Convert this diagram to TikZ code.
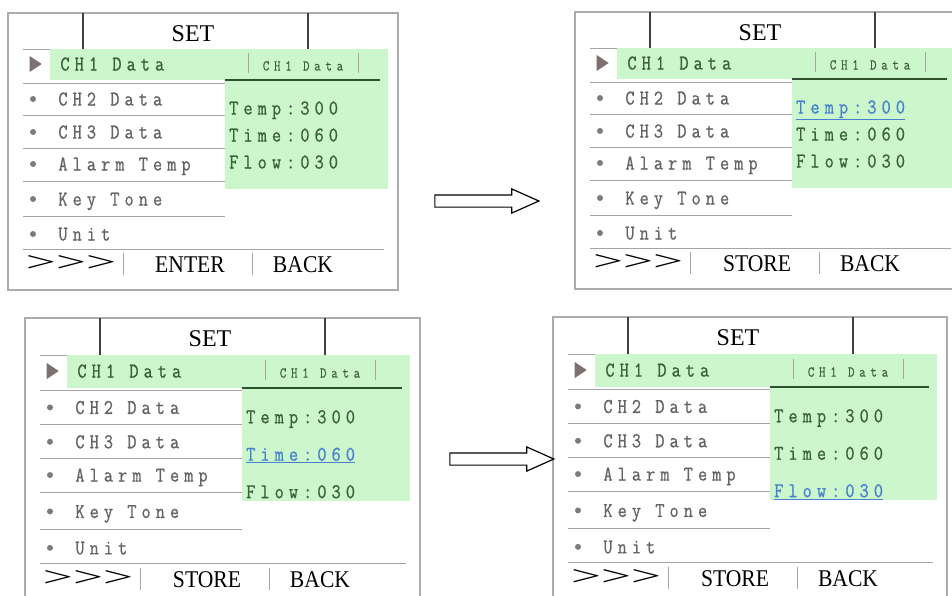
\documentclass[tikz,border=0pt]{standalone}
\usepackage{fontspec}
\usepackage{graphicx}
\usepackage{tikz}
\usetikzlibrary{shapes.geometric, shapes.arrows, positioning}

\setmainfont{Liberation Serif}
\newfontfamily\lcdfont{Latin Modern Mono}[FakeStretch=0.85, LetterSpace=24, FakeBold=0.8]
\newfontfamily\lcdsmall{Latin Modern Mono}[FakeStretch=0.85, LetterSpace=31, FakeBold=0.6]
\newfontfamily\keyfont{Liberation Serif}[FakeStretch=0.9]

\definecolor{lcdgreen}{RGB}{204,246,204}
\definecolor{lcdtext}{RGB}{55,100,55}
\definecolor{itemgray}{RGB}{100,100,100}
\definecolor{selblue}{RGB}{70,130,205}
\definecolor{framegray}{RGB}{172,172,172}
\definecolor{sepgray}{RGB}{165,165,165}
\definecolor{darkrule}{RGB}{45,80,45}
\definecolor{markgray}{RGB}{125,112,112}

% one SET screen of the controller
% #1 name, #2 top left corner, #3 frame width, #4 yscale,
% #5 middle soft key, #6 value being edited (0 = none), #7 value spacing
\newcommand{\setscreen}[7]{%
  \begin{scope}[shift={#2}, yscale=#4]
    % frame and menu rules
    \draw[frameline] (0,0) rectangle (#3,277);
    \foreach \ry in {36,70,102,135,168,203}
      \draw[sepline] (15,\ry) -- (217,\ry);
    \draw[sepline] (15,236) -- (#3-14,236);
    % green highlight of the chosen entry
    \fill[lcdgreen] (42,36) rectangle (#3-10,67);
    \fill[lcdgreen] (217,67) rectangle (#3-10,176);
    \draw[ruleline] (217,67) -- (#3-18,67);
    % title bar
    \draw[tickline] (75,0) -- (75,36) (300,0) -- (300,36);
    \node[titletext] (#1-set) at (185,20) {SET};
    % submenu header
    \draw[thinline] (240,40) -- (240,60) (350,40) -- (350,60);
    \node[headtext] (#1-head) at (295,53) {CH1 Data};
    % menu entries
    \node[pointer] (#1-p1) at (26,51) {};
    \node[itemsel, right=18pt of #1-p1] (#1-i1) {CH1 Data};
    \foreach \t/\ry [count=\k from 2] in {CH2 Data/86, CH3 Data/119, Alarm Temp/151, Key Tone/186, Unit/221}{
      \node[bullet] (#1-p\k) at (25,\ry) {};
      \node[itemtext, right=22pt of #1-p\k] (#1-i\k) {\t};
    }
    % values of CH1
    \foreach \v [count=\k] in {Temp:300, Time:060, Flow:030}{
      \ifnum\k=#6
        \node[valsel] (#1-v\k) at (221,{95+(\k-1)*#7}) {\underline{\v}};
      \else
        \node[valtext] (#1-v\k) at (221,{95+(\k-1)*#7}) {\v};
      \fi
    }
    % soft keys
    \draw[thinline] (115,240) -- (115,262) (244,240) -- (244,262);
    \node[moretext] (#1-more) at (63,251) {\scalebox{1.9}[1]{>{}>{}>}};
    \node[keytext] (#1-key) at (182,251) {#5};
    \node[keytext] (#1-back) at (295,251) {BACK};
  \end{scope}}

\begin{document}
\begin{tikzpicture}[x=1pt, y=-1pt,
    frameline/.style={draw=framegray, line width=1.3pt},
    sepline/.style={draw=sepgray, line width=0.9pt},
    thinline/.style={draw=sepgray, line width=0.8pt},
    ruleline/.style={draw=darkrule, line width=1.8pt},
    tickline/.style={draw=black!75, line width=1.1pt},
    titletext/.style={inner sep=0pt, text height=16pt, text depth=0pt,
      font=\fontsize{24}{26}\selectfont},
    keytext/.style={inner sep=0pt, text height=16pt, text depth=0pt,
      font=\keyfont\fontsize{24}{26}\selectfont},
    moretext/.style={inner sep=0pt, text height=14pt, text depth=0pt,
      font=\fontsize{28}{30}\selectfont},
    itemtext/.style={inner sep=0pt, text height=13pt, text depth=0pt,
      text=itemgray, font=\lcdfont\fontsize{21}{23}\selectfont},
    itemsel/.style={itemtext, text=lcdtext},
    valtext/.style={itemtext, anchor=west, text=lcdtext},
    valsel/.style={valtext, text=selblue},
    headtext/.style={inner sep=0pt, text height=9pt, text depth=0pt,
      text=lcdtext, font=\lcdsmall\fontsize{15}{17}\selectfont},
    pointer/.style={isosceles triangle, isosceles triangle stretches,
      fill=markgray, inner sep=0pt, minimum height=12pt, minimum width=16pt},
    bullet/.style={circle, fill=itemgray!85, inner sep=0pt, minimum size=6pt},
    blockarrow/.style={single arrow, draw=black, line width=1.2pt, fill=white,
      inner xsep=0pt, inner ysep=5.5pt, text height=0pt, text depth=0pt,
      minimum height=104pt, single arrow head extend=6pt,
      single arrow tip angle=48, single arrow head indent=0pt}]

    \useasboundingbox (0,0) rectangle (952,595);
    \clip (0,0) rectangle (952,595);
    \fill[white] (0,0) rectangle (952,595);

    % menu opened on CH1 Data
    \setscreen{scrA}{(8,13)}{390}{1}{ENTER}{0}{27}
    % ENTER: temperature is edited
    \setscreen{scrB}{(575,12)}{390}{1}{STORE}{1}{27}
    % time is edited
    \setscreen{scrC}{(25,318)}{395}{1.04}{STORE}{2}{36}
    % flow is edited
    \setscreen{scrD}{(553,317)}{394}{1.04}{STORE}{3}{36}

    % block arrows between the screens
    \node[blockarrow] (nextA) at (480,201) {};
    \node[blockarrow] (nextB) at (495,459) {};

\end{tikzpicture}
\end{document}
